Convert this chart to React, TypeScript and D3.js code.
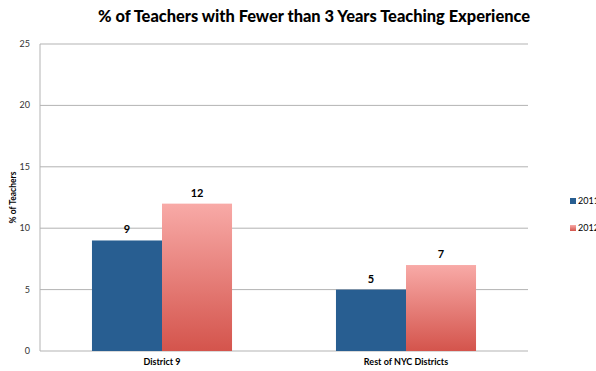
import React from "react";
import * as d3 from "d3";

const categories = ["District 9", "Rest of NYC Districts"];
const seriesNames = ["2011", "2012"];
const values2011 = [9, 5];
const values2012 = [12, 7];
const yTicks = [0, 5, 10, 15, 20, 25];

const W = 596;
const H = 371;
const margin = { left: 40, right: 68, top: 44, bottom: 20 };
const FONT = "Lato, 'Open Sans', sans-serif";

export default function App() {
  const x0 = d3
    .scaleBand<string>()
    .domain(categories)
    .range([margin.left, W - margin.right])
    .paddingInner(0.426)
    .paddingOuter(0.213);
  const x1 = d3.scaleBand<string>().domain(seriesNames).range([0, x0.bandwidth()]);
  const y = d3.scaleLinear().domain([0, 25]).range([H - margin.bottom, margin.top]);

  const series = [
    { name: "2011", values: values2011, fill: "#285e91" },
    { name: "2012", values: values2012, fill: "url(#pinkGrad)" },
  ];

  return (
    <svg
      width={W}
      height={H}
      style={{ position: "absolute", left: 0, top: 0, background: "#fff" }}
      fontFamily={FONT}
    >
      <defs>
        <linearGradient id="pinkGrad" x1="0" y1="0" x2="0" y2="1">
          <stop offset="0%" stopColor="#f8aaa7" />
          <stop offset="100%" stopColor="#d4544c" />
        </linearGradient>
        <linearGradient id="pinkLegend" x1="0" y1="0" x2="0" y2="1">
          <stop offset="0%" stopColor="#f8aaa7" />
          <stop offset="100%" stopColor="#d4544c" />
        </linearGradient>
      </defs>

      <text
        x={314}
        y={22}
        textAnchor="middle"
        fontSize={16.4}
        fontWeight={900}
        fill="#000"
      >
        % of Teachers with Fewer than 3 Years Teaching Experience
      </text>

      {/* gridlines */}
      {yTicks.map((t) => (
        <line
          key={t}
          x1={margin.left}
          x2={W - margin.right}
          y1={y(t)}
          y2={y(t)}
          stroke="#b3b3b3"
          strokeWidth={1}
        />
      ))}
      <line
        x1={margin.left}
        x2={margin.left}
        y1={y(25)}
        y2={y(0)}
        stroke="#b3b3b3"
        strokeWidth={1}
      />

      {/* y tick labels */}
      {yTicks.map((t) => (
        <text
          key={t}
          x={margin.left - 10}
          y={y(t) + 3}
          textAnchor="end"
          fontSize={9}
          fill="#333"
        >
          {t}
        </text>
      ))}

      <text
        transform={`translate(16, ${(y(0) + y(25)) / 2}) rotate(-90)`}
        textAnchor="middle"
        fontSize={8.5}
        fontWeight="bold"
        fill="#000"
      >
        % of Teachers
      </text>

      {/* bars */}
      {series.map((s) =>
        categories.map((c, i) => {
          const bx = (x0(c) as number) + (x1(s.name) as number);
          const by = y(s.values[i]);
          return (
            <g key={s.name + c}>
              <rect
                x={bx}
                y={by}
                width={x1.bandwidth()}
                height={y(0) - by}
                fill={s.fill}
              />
              <text
                x={bx + x1.bandwidth() / 2}
                y={by - 7}
                textAnchor="middle"
                fontSize={11}
                fontWeight="bold"
                fill="#000"
              >
                {s.values[i]}
              </text>
            </g>
          );
        })
      )}

      {/* category labels */}
      {categories.map((c) => (
        <text
          key={c}
          x={(x0(c) as number) + x0.bandwidth() / 2}
          y={y(0) + 14}
          textAnchor="middle"
          fontSize={9}
          fontWeight="bold"
          fill="#000"
        >
          {c}
        </text>
      ))}

      {/* legend */}
      {series.map((s, i) => (
        <g key={s.name} transform={`translate(570, ${198 + i * 27})`}>
          <rect
            width={6}
            height={6}
            fill={i === 0 ? "#285e91" : "url(#pinkLegend)"}
          />
          <text x={8} y={6} fontSize={9} fill="#000">
            {s.name}
          </text>
        </g>
      ))}
    </svg>
  );
}
